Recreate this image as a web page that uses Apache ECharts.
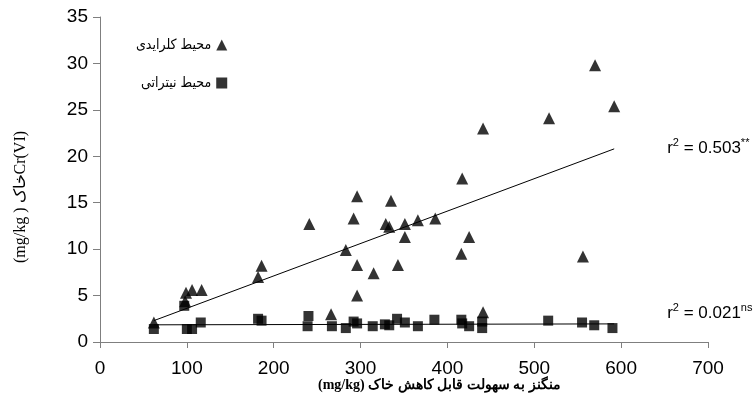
<!DOCTYPE html>
<html>
<head>
<meta charset="utf-8">
<script src="https://cdn.jsdelivr.net/npm/echarts@6/dist/echarts.min.js"></script>
<style>
  html, body { margin: 0; padding: 0; background: #ffffff; }
  #chart { width: 756px; height: 404px; }
</style>
</head>
<body>
<div id="chart"></div>
<script>
// Easily reducible Mn (mg/kg) and soil Cr(VI) (mg/kg) in the two media
const seriesNames = ['محیط کلرایدی', 'محیط نیتراتی'];

const chlorideMn = [62, 98, 99, 106, 117, 182, 186, 241, 266, 283, 292, 296, 296, 296, 315, 329,
  333, 335, 343, 351, 351, 366, 386, 416, 417, 425, 441, 441, 517, 556, 570, 592];
const chlorideCr = [2.1, 4.4, 5.3, 5.6, 5.6, 7.0, 8.2, 12.7, 3.0, 9.9, 13.3, 15.7, 8.3, 5.0, 7.4, 12.7,
  12.4, 15.2, 8.3, 12.7, 11.3, 13.1, 13.3, 9.5, 17.6, 11.3, 23.0, 3.2, 24.1, 9.2, 29.8, 25.4];

const nitrateMn = [62, 97, 100, 106, 116, 182, 186, 240, 239, 267, 283, 292, 296, 314, 328, 333,
  342, 351, 366, 385, 416, 417, 425, 440, 440, 516, 555, 569, 590];
const nitrateCr = [1.4, 3.9, 1.4, 1.4, 2.1, 2.5, 2.3, 2.8, 1.7, 1.7, 1.5, 2.2, 2.0, 1.7, 1.9, 1.8,
  2.5, 2.1, 1.7, 2.4, 2.4, 2.0, 1.7, 2.2, 1.5, 2.3, 2.1, 1.8, 1.5];

// Fitted trend lines (end points)
const chlorideTrendMn = [62, 592];
const chlorideTrendCr = [2.3, 20.8];
const nitrateTrendMn = [62, 592];
const nitrateTrendCr = [1.85, 1.95];

// Fit statistics
const chlorideR2 = '0.503';
const chlorideSig = '**';
const nitrateR2 = '0.021';
const nitrateSig = 'ns';

const xTitle = '(mg/kg) منگنز به سهولت قابل کاهش خاک';
const yTitle = '(mg/kg ) خاکCr(VI)';

const pairs = (xs, ys) => xs.map((x, i) => [x, ys[i]]);

const chart = echarts.init(document.getElementById('chart'), null, { renderer: 'canvas' });

const axisGrey = '#7f7f7f';
const sans = 'Arial, "Liberation Sans", "DejaVu Sans", sans-serif';
const legendFont = '"DejaVu Sans Condensed", "DejaVu Sans", sans-serif';
const serif = '"Times New Roman", "Liberation Serif", "DejaVu Serif", serif';

chart.setOption({
  animation: false,
  backgroundColor: '#ffffff',
  grid: { left: 100, right: 48, top: 17, bottom: 62 },
  legend: {
    orient: 'vertical',
    left: 131,
    top: 33,
    align: 'right',
    itemGap: 24,
    itemWidth: 11,
    itemHeight: 11,
    data: seriesNames,
    textStyle: { fontSize: 14, fontFamily: legendFont, color: '#000' }
  },
  xAxis: {
    type: 'value',
    min: 0, max: 700, interval: 100,
    axisLine: { lineStyle: { color: axisGrey, width: 1 } },
    axisTick: { show: true, length: 6, lineStyle: { color: axisGrey } },
    splitLine: { show: false },
    axisLabel: { fontSize: 19, fontFamily: sans, color: '#000', margin: 17 }
  },
  yAxis: {
    type: 'value',
    min: 0, max: 35, interval: 5,
    axisLine: { show: true, lineStyle: { color: axisGrey, width: 1 } },
    axisTick: { show: true, length: 7, lineStyle: { color: axisGrey } },
    splitLine: { show: false },
    axisLabel: { fontSize: 19, fontFamily: sans, color: '#000', margin: 12 }
  },
  series: [
    {
      name: 'chlorideTrend', type: 'line', data: pairs(chlorideTrendMn, chlorideTrendCr),
      symbol: 'none', lineStyle: { color: '#000', width: 1 }, z: 1, silent: true
    },
    {
      name: 'nitrateTrend', type: 'line', data: pairs(nitrateTrendMn, nitrateTrendCr),
      symbol: 'none', lineStyle: { color: '#000', width: 1 }, z: 1, silent: true
    },
    {
      name: seriesNames[0], type: 'scatter', symbol: 'triangle', symbolSize: 12,
      itemStyle: { color: '#000' }, data: pairs(chlorideMn, chlorideCr), z: 3
    },
    {
      name: seriesNames[1], type: 'scatter', symbol: 'rect', symbolSize: 10,
      itemStyle: { color: '#000' }, data: pairs(nitrateMn, nitrateCr), z: 3
    }
  ]
});

// Annotations anchored in data space
const annoStyle = {
  a: { fontSize: 17, fontFamily: sans, color: '#000' },
  sup: { fontSize: 11, fontFamily: sans, color: '#000', verticalAlign: 'top', padding: [0, 0, 10, 0] }
};
const p1 = chart.convertToPixel({ gridIndex: 0 }, [653, 20.9]);
const p2 = chart.convertToPixel({ gridIndex: 0 }, [653, 3.1]);

chart.setOption({
  graphic: [
    {
      type: 'text', x: p1[0], y: p1[1],
      style: {
        text: '{a|r}{sup|2}{a| = ' + chlorideR2 + '}{sup|' + chlorideSig + '}',
        rich: annoStyle, verticalAlign: 'middle', align: 'left'
      }
    },
    {
      type: 'text', x: p2[0], y: p2[1],
      style: {
        text: '{a|r}{sup|2}{a| = ' + nitrateR2 + '}{sup|' + nitrateSig + '}',
        rich: annoStyle, verticalAlign: 'middle', align: 'left'
      }
    },
    {
      type: 'text', x: 318, y: 385,
      style: {
        text: xTitle, fontSize: 14, fontWeight: 'bold', fontFamily: serif,
        fill: '#000', align: 'left', verticalAlign: 'middle'
      }
    },
    {
      type: 'text', x: 21, y: 263, rotation: Math.PI / 2,
      style: {
        text: yTitle, fontSize: 16, fontFamily: serif,
        fill: '#000', align: 'left', verticalAlign: 'middle'
      }
    }
  ]
});
</script>
</body>
</html>
